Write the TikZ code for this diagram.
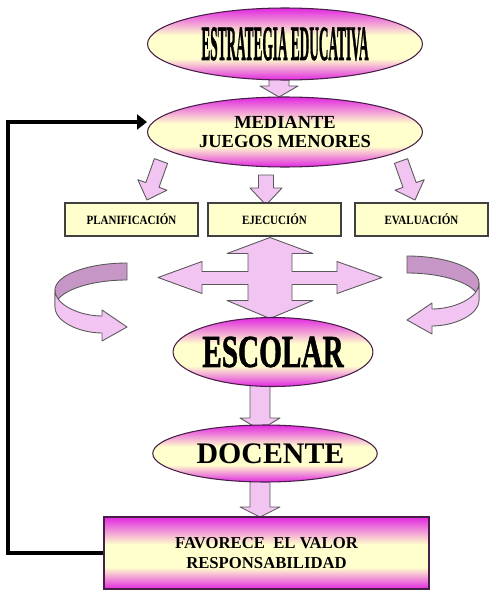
\documentclass[tikz,border=0pt]{standalone}
\usepackage{fontspec}
\setmainfont{Liberation Serif}
\newfontfamily\gruesa[FakeBold=1.6]{Liberation Serif}
\usetikzlibrary{shapes.geometric,calc,backgrounds,arrows.meta}
\definecolor{mag}{RGB}{225,40,225}
\definecolor{crema}{RGB}{255,255,205}
\definecolor{lila}{RGB}{242,196,242}
\definecolor{lilaosc}{RGB}{198,150,198}
\definecolor{borde}{RGB}{70,30,70}
\pgfdeclareverticalshading{rosa}{100bp}{color(0bp)=(mag); color(25bp)=(mag); color(40bp)=(crema);
  color(56bp)=(crema); color(75bp)=(mag); color(100bp)=(mag)}
\newcommand{\bigarrow}[5]{%
  \path (#1) coordinate (ba) (#2) coordinate (bb) ($(bb)!#5!(ba)$) coordinate (bh);
  \draw[blockarrow] ($(ba)!#3!90:(bb)$) -- ($(bh)!#3!90:(bb)$) -- ($(bh)!#4!90:(bb)$) -- (bb)
    -- ($(bh)!#4!-90:(bb)$) -- ($(bh)!#3!-90:(bb)$) -- ($(ba)!#3!-90:(bb)$) -- cycle;}
\newcommand{\curlarrow}{%
  \draw[blockarrow,fill=lilaosc] (0,0) .. controls (-39,0) and (-72,12) .. (-72,27) -- (-72,44)
    .. controls (-72,29) and (-39,17) .. (0,17) -- cycle;
  \draw[blockarrow] (-72,27) .. controls (-72,42) and (-47,53) .. (-25,53) -- (-25,47) -- (0,64)
    -- (-25,78) -- (-25,70) .. controls (-47,70) and (-72,59) .. (-72,44) -- cycle;}
\begin{document}
\begin{tikzpicture}[x=0.02cm,y=-0.02cm,
  oval/.style={ellipse,draw=borde,line width=0.6pt,shading=rosa,inner sep=0pt},
  tarea/.style={draw=black!75,line width=1pt,fill=crema,minimum width=2.66cm,minimum height=0.66cm,inner sep=0pt,font=\bfseries\fontsize{7.2}{8}\selectfont},
  blockarrow/.style={draw=black!65,fill=lila,line width=0.5pt,line join=round},
  loopline/.style={line width=1.8pt,-{Triangle[length=0.2cm,width=0.3cm]}}]
\useasboundingbox (0,0) rectangle (499,595);
\node[oval,minimum width=5.5cm,minimum height=1.44cm] (estr) at (285,44)
  {\scalebox{0.27}[1]{\gruesa\bfseries\fontsize{28}{28}\selectfont ESTRATEGIA EDUCATIVA}};
\node[oval,minimum width=5.5cm,minimum height=1.4cm,align=center,font=\bfseries\fontsize{10.5}{11}\selectfont] (jueg) at (285,132)
  {MEDIANTE\\JUEGOS MENORES};
\node[tarea] (plan) at (131.5,219.5) {\scalebox{0.87}[1]{PLANIFICACIÓN}};
\node[tarea] (ejec) at (274.5,219.5) {\scalebox{0.87}[1]{EJECUCIÓN}};
\node[tarea] (eval) at (421.5,219.5) {\scalebox{0.87}[1]{EVALUACIÓN}};
\node[oval,minimum width=3.64cm,minimum height=1.38cm] (esco) at (273,352)
  {\scalebox{0.64}[1]{\gruesa\bfseries\fontsize{26}{26}\selectfont ESCOLAR}};
\node[oval,minimum width=3.66cm,minimum height=1.14cm,font=\bfseries\fontsize{17}{17}\selectfont] (doce) at (265,453.5)
  {\hspace*{0.22cm}DOCENTE};
\node[draw=borde,line width=0.8pt,shading=rosa,minimum width=6.5cm,minimum height=1.44cm,
  align=center,font=\bfseries\fontsize{9.5}{11.4}\selectfont] (favo) at (266.5,553) {FAVORECE \ EL VALOR\\RESPONSABILIDAD};
\coordinate (ret) at (8,122);
\draw[loopline] (favo.west) -| (ret) -- ($(jueg.west)+(0,-10)$);
\begin{scope}[shift={(127,263)}]
  \curlarrow
\end{scope}
\begin{scope}[shift={(407,256)},xscale=-1]
  \curlarrow
\end{scope}
\begin{scope}[on background layer]
  \fill[white] (0,0) rectangle (499,595);
  \coordinate (a1) at (279,78); \coordinate (a2) at (279,97);
  \bigarrow{a1}{a2}{0.2cm}{0.38cm}{0.22cm}
  \coordinate (b1) at (161,161); \coordinate (b2) at (147,200);
  \bigarrow{b1}{b2}{0.14cm}{0.31cm}{0.32cm}
  \coordinate (c1) at (266,175); \coordinate (c2) at (266,205);
  \bigarrow{c1}{c2}{0.15cm}{0.32cm}{0.34cm}
  \coordinate (d1) at (401,161); \coordinate (d2) at (415,200);
  \bigarrow{d1}{d2}{0.14cm}{0.31cm}{0.32cm}
  \coordinate (e1) at (260,380); \coordinate (e2) at (260,430);
  \bigarrow{e1}{e2}{0.2cm}{0.4cm}{0.24cm}
  \coordinate (f1) at (260,470); \coordinate (f2) at (260,517);
  \bigarrow{f1}{f2}{0.2cm}{0.4cm}{0.2cm}
  \begin{scope}[shift={(270,277.5)}]
    \draw[blockarrow] (0,-40) -- (43,-24) -- (22,-24) -- (22,-6) -- (67,-6) -- (67,-16) -- (112,0) -- (67,16)
      -- (67,7) -- (22,7) -- (22,23) -- (43,23) -- (0,41) -- (-43,23) -- (-22,23) -- (-22,7) -- (-68,7)
      -- (-68,16) -- (-112,0) -- (-68,-16) -- (-68,-6) -- (-22,-6) -- (-22,-24) -- (-43,-24) -- cycle;
  \end{scope}
\end{scope}
\end{tikzpicture}
\end{document}
